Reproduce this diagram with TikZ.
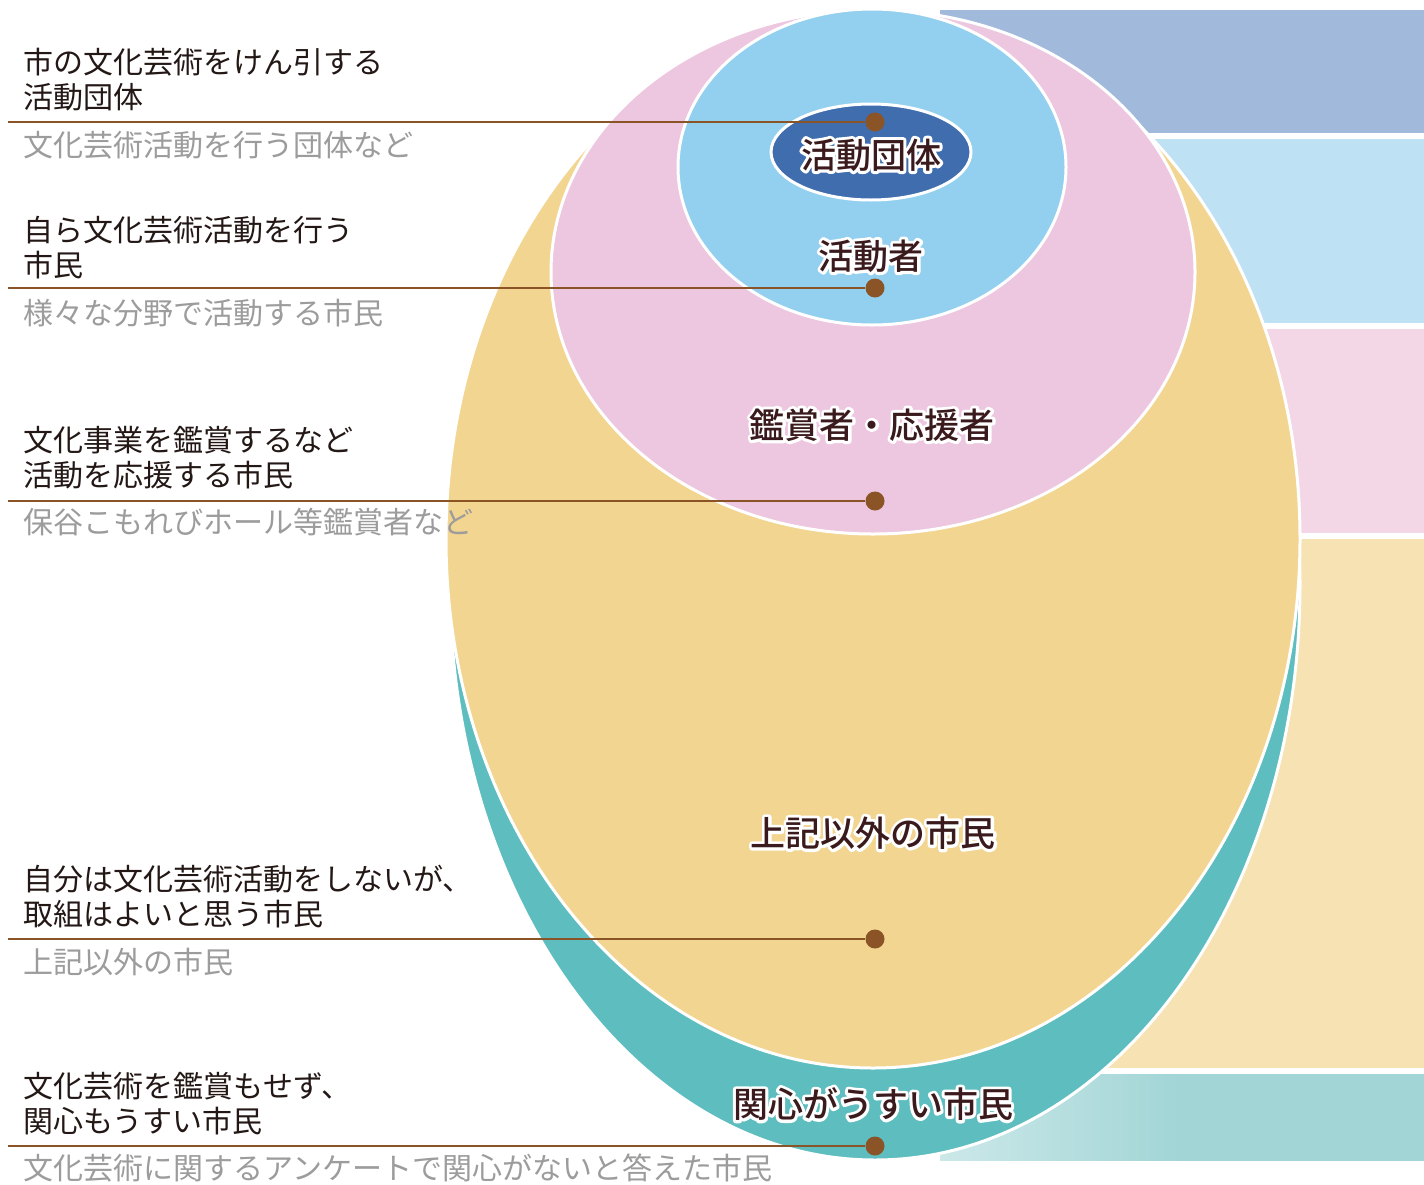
\documentclass[tikz,border=0pt]{standalone}
\usepackage{fontspec}
\newfontfamily\jp{Noto Sans CJK JP}
\newfontfamily\jpm{Noto Sans CJK JP Medium}
\definecolor{bandA}{HTML}{A1BADB}
\definecolor{bandB}{HTML}{BEE1F4}
\definecolor{bandC}{HTML}{F4D7E7}
\definecolor{bandD}{HTML}{F6E2B2}
\definecolor{bandE}{HTML}{A2D5D6}
\definecolor{tealc}{HTML}{5DBDBF}
\definecolor{yelc}{HTML}{F2D590}
\definecolor{pinkc}{HTML}{EDC6DF}
\definecolor{lbluec}{HTML}{93CFEE}
\definecolor{dbluec}{HTML}{3F6DAD}
\definecolor{leadc}{HTML}{8A5426}
\definecolor{labc}{HTML}{231815}
\definecolor{subc}{HTML}{9C9C9C}
\definecolor{cenc}{HTML}{3A1A1C}
\newcommand\halotxt[1]{\special{pdf:literal direct q 1 1 1 RG 6 w 1 j 1 Tr}\rlap{#1}\special{pdf:literal direct Q}#1}
\begin{document}
\begin{tikzpicture}[x=1pt,y=-1pt,
  ell/.style={draw=white, line width=3pt},
  lead/.style={draw=leadc, line width=2.4pt},
  leaddot/.style={circle, fill=leadc, inner sep=0pt, minimum size=19pt},
  lab/.style={anchor=west, inner sep=0pt, align=left, text=labc, font=\jp\fontsize{30}{35}\selectfont},
  sublab/.style={anchor=west, inner sep=0pt, text=subc, font=\jp\fontsize{30}{35}\selectfont},
  cen/.style={inner sep=0pt, text=cenc, font=\jpm\fontsize{35}{40}\selectfont}]
\useasboundingbox (0,0) rectangle (1424,1184);
\fill[white] (0,0) rectangle (1424,1184);
% bands
\fill[bandA] (940,10) rectangle (1424,133);
\fill[bandB] (940,139) rectangle (1424,323);
\fill[bandC] (940,329) rectangle (1424,533);
\fill[bandD] (940,539) rectangle (1424,1068);
\fill[left color=bandE!55!white, right color=bandE, middle color=bandE] (940,1074) rectangle (1424,1160);
% ellipses
\draw[ell, fill=tealc] (875,585) ellipse [x radius=425, y radius=575];
\draw[ell, fill=yelc] (873,539) ellipse [x radius=427, y radius=529];
\draw[ell, fill=pinkc] (873,272) ellipse [x radius=322, y radius=262];
\draw[ell, fill=lbluec] (872,167) ellipse [x radius=194, y radius=158];
\draw[ell, fill=dbluec] (871,152) ellipse [x radius=100, y radius=48];
% leaders
\coordinate (s1) at (8,122);
\coordinate (s2) at (8,288);
\coordinate (s3) at (8,501);
\coordinate (s4) at (8,939);
\coordinate (s5) at (8,1146);
\node[leaddot] (d1) at (875,122) {};
\node[leaddot] (d2) at (875,288) {};
\node[leaddot] (d3) at (875,501) {};
\node[leaddot] (d4) at (875,939) {};
\node[leaddot] (d5) at (875,1146) {};
\draw[lead] (s1) -- (d1);
\draw[lead] (s2) -- (d2);
\draw[lead] (s3) -- (d3);
\draw[lead] (s4) -- (d4);
\draw[lead] (s5) -- (d5);
% left labels
\node[lab] (l1) at (23,80) {市の文化芸術をけん引する\\活動団体};
\node[sublab] (t1) at (23,145) {文化芸術活動を行う団体など};
\node[lab] (l2) at (23,248) {自ら文化芸術活動を行う\\市民};
\node[sublab] (t2) at (23,313) {様々な分野で活動する市民};
\node[lab] (l3) at (23,458) {文化事業を鑑賞するなど\\活動を応援する市民};
\node[sublab] (t3) at (23,522) {保谷こもれびホール等鑑賞者など};
\node[lab] (l4) at (23,897) {自分は文化芸術活動をしないが、\\取組はよいと思う市民};
\node[sublab] (t4) at (23,962) {上記以外の市民};
\node[lab] (l5) at (23,1104) {文化芸術を鑑賞もせず、\\関心もうすい市民};
\node[sublab] (t5) at (23,1168) {文化芸術に関するアンケートで関心がないと答えた市民};
% centre labels
\node[cen] (c1) at (871,155) {\halotxt{活動団体}};
\node[cen] (c2) at (871,256) {\halotxt{活動者}};
\node[cen] (c3) at (872,425) {\halotxt{鑑賞者・応援者}};
\node[cen] (c4) at (873,833) {\halotxt{上記以外の市民}};
\node[cen] (c5) at (873,1104) {\halotxt{関心がうすい市民}};
\end{tikzpicture}
\end{document}
